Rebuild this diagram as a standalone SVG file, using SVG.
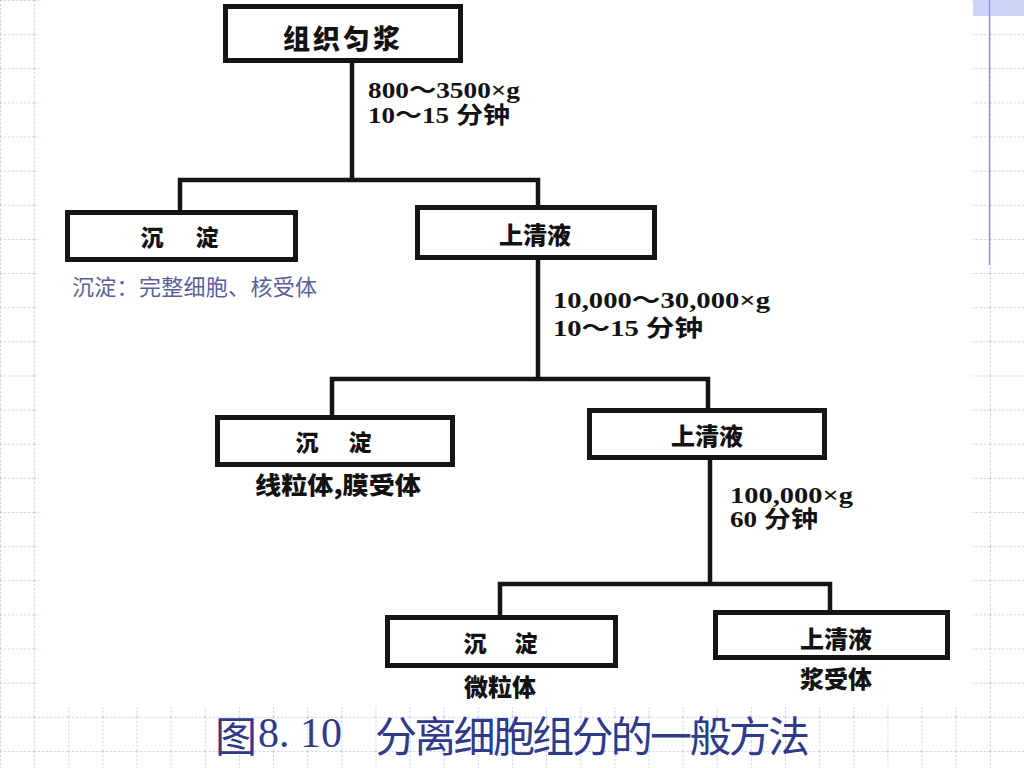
<svg xmlns="http://www.w3.org/2000/svg" width="1024" height="768" viewBox="0 0 1024 768">
<style>
.box{fill:#ffffff;stroke:#151515;stroke-width:5;stroke-linejoin:miter}
.con{fill:none;stroke:#151515;stroke-width:4.5;stroke-linecap:square;stroke-linejoin:miter}
.bt{font-family:"Noto Sans CJK SC","Liberation Sans",sans-serif;font-weight:900;fill:#121212;text-anchor:middle;dominant-baseline:central}
.lb{font-family:"Liberation Serif","Noto Sans CJK SC",serif;font-weight:bold;fill:#121212;dominant-baseline:central}
.note{font-family:"Noto Sans CJK SC",sans-serif;fill:#5b5f99;dominant-baseline:central}
.cap{font-family:"Noto Sans CJK SC",sans-serif;fill:#2f3a8a;dominant-baseline:central}
.capn{font-family:"Liberation Serif",serif;fill:#2f3a8a;dominant-baseline:central}
</style>
<defs>
<pattern id="grid" x="0" y="0" width="34.133" height="34.133" patternUnits="userSpaceOnUse">
<path d="M0 0.5H34.133M0.5 0V34.133" fill="none" stroke="#c6cce8" stroke-width="1" stroke-dasharray="2 2"/>
</pattern>
</defs>
<rect width="1024" height="768" fill="#ffffff"/>
<rect width="1024" height="768" fill="url(#grid)"/>
<rect x="973" y="0" width="51" height="16" fill="#cdd5f6"/>
<line x1="989.5" y1="0" x2="989.5" y2="265" stroke="#8c9ade" stroke-width="1.5"/>
<rect x="39" y="0" width="933" height="707" fill="#ffffff"/>

<g id="connectors">
<path class="con" d="M352 63V180M180 210V180H538V205"/>
<path class="con" d="M538 260V379M332 415V379H708V408"/>
<path class="con" d="M710 460V584M500 615V584H830V610"/>
</g>

<g id="n-homogenate">
<rect class="box" x="225.5" y="6.5" width="235" height="54"/>
<text class="bt" x="343" y="37" font-size="27" letter-spacing="3">组织匀浆</text>
</g>

<g id="e-label1">
<text class="lb" x="368" y="90" font-size="23" textLength="152" lengthAdjust="spacingAndGlyphs">800～3500×g</text>
<text class="lb" x="368" y="115" font-size="23" textLength="142" lengthAdjust="spacingAndGlyphs">10～15 分钟</text>
</g>

<g id="n-pellet1">
<rect class="box" x="67.5" y="212.5" width="228" height="47"/>
<text class="bt" x="152" y="236" font-size="23">沉</text>
<text class="bt" x="207" y="236" font-size="23">淀</text>
</g>
<text class="note" x="72" y="285" font-size="22" textLength="245">沉淀：完整细胞、核受体</text>

<g id="n-super1">
<rect class="box" x="417.5" y="207.5" width="237" height="50"/>
<text class="bt" x="535" y="233" font-size="24">上清液</text>
</g>

<g id="e-label2">
<text class="lb" x="553" y="300" font-size="23" textLength="217" lengthAdjust="spacingAndGlyphs">10,000～30,000×g</text>
<text class="lb" x="553" y="328" font-size="23" textLength="150" lengthAdjust="spacingAndGlyphs">10～15 分钟</text>
</g>

<g id="n-pellet2">
<rect class="box" x="217.5" y="417.5" width="235" height="47"/>
<text class="bt" x="307" y="441" font-size="23">沉</text>
<text class="bt" x="360" y="441" font-size="23">淀</text>
<text class="bt" x="338" y="483" font-size="24" textLength="166" lengthAdjust="spacingAndGlyphs">线粒体,膜受体</text>
</g>

<g id="n-super2">
<rect class="box" x="589.5" y="410.5" width="235" height="47"/>
<text class="bt" x="707" y="434" font-size="24">上清液</text>
</g>

<g id="e-label3">
<text class="lb" x="730" y="495" font-size="23" textLength="123" lengthAdjust="spacingAndGlyphs">100,000×g</text>
<text class="lb" x="730" y="519" font-size="23" textLength="88" lengthAdjust="spacingAndGlyphs">60 分钟</text>
</g>

<g id="n-pellet3">
<rect class="box" x="387.5" y="617.5" width="228" height="48"/>
<text class="bt" x="475" y="642" font-size="23">沉</text>
<text class="bt" x="526" y="642" font-size="23">淀</text>
<text class="bt" x="500" y="685" font-size="24">微粒体</text>
</g>

<g id="n-super3">
<rect class="box" x="715.5" y="612.5" width="232" height="45"/>
<text class="bt" x="836" y="637" font-size="24">上清液</text>
<text class="bt" x="836" y="677" font-size="24">浆受体</text>
</g>

<g id="caption">
<text class="cap" x="215" y="733" font-size="42">图</text>
<text class="capn" x="258" y="733" font-size="42">8. 10</text>
<text class="cap" x="375" y="733" font-size="42" textLength="435">分离细胞组分的一般方法</text>
</g>
</svg>
